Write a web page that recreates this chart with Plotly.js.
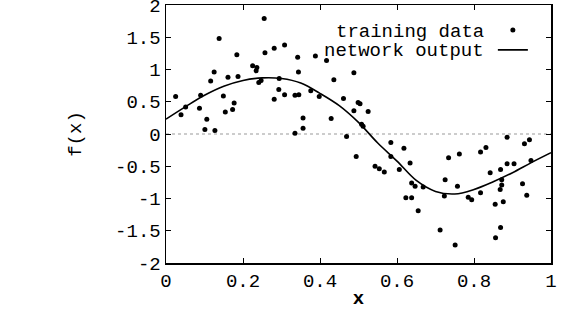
<!DOCTYPE html>
<html>
<head>
<meta charset="utf-8">
<script src="https://cdn.plot.ly/plotly-3.0.1.min.js"></script>
<style>html,body{margin:0;padding:0;background:#fff;}#chart{width:565px;height:310px;}</style>
</head>
<body>
<div id="chart"></div>
<script>
// Training data
var trainX = [0.025,0.039,0.051,0.087,0.090,0.101,0.106,0.116,0.125,0.127,0.138,0.149,0.154,0.161,0.173,0.177,0.184,0.187,
  0.225,0.234,0.236,0.241,0.247,0.255,0.257,0.281,0.281,0.293,0.294,0.308,0.308,0.335,0.345,0.342,0.344,0.356,0.356,0.335,
  0.376,0.388,0.398,0.417,0.429,0.436,0.461,0.469,0.488,0.488,0.494,0.499,0.504,0.508,0.512,0.525,0.543,0.554,0.567,0.584,
  0.584,0.606,0.618,0.623,0.634,0.638,0.638,0.647,0.655,0.668,0.712,0.723,0.725,0.734,0.751,0.757,0.762,0.785,0.794,0.817,
  0.817,0.831,0.842,0.855,0.856,0.868,0.869,0.869,0.872,0.872,0.876,0.886,0.886,0.904,0.926,0.931,0.937,0.944,0.948];
var trainY = [0.58,0.30,0.42,0.40,0.60,0.07,0.23,0.82,0.96,0.055,1.48,0.59,0.34,0.88,0.38,0.48,1.23,0.89,
  1.06,0.98,1.03,0.80,0.83,1.79,1.26,1.33,0.54,0.69,0.86,1.38,0.61,0.60,0.61,1.19,0.96,0.25,0.09,0.01,
  0.67,1.21,0.58,1.14,0.24,0.84,0.55,-0.04,0.95,0.36,-0.35,0.49,0.47,0.15,0.12,0.35,-0.50,-0.54,-0.59,-0.13,
  -0.35,-0.55,-0.22,-0.99,-0.45,-0.76,-0.99,-0.81,-1.19,-0.82,-1.49,-0.96,-0.71,-0.37,-1.72,-0.81,-0.31,-0.98,-1.02,-0.91,
  -0.28,-0.21,-0.60,-1.09,-1.61,-0.86,-0.55,-1.45,-0.71,-0.79,-1.05,-0.05,-0.46,-0.46,-0.77,-0.15,-0.95,-0.09,-0.41];
// Network output curve
var netX = [0,0.05,0.1,0.15,0.2,0.25,0.3,0.35,0.4,0.45,0.5,0.55,0.6,0.65,0.7,0.75,0.8,0.85,0.9,0.95,1.0];
var netY = [0.23,0.42,0.60,0.74,0.83,0.87,0.86,0.79,0.63,0.44,0.18,-0.14,-0.42,-0.72,-0.89,-0.93,-0.86,-0.74,-0.60,-0.44,-0.29];
var xTicks = [0,0.2,0.4,0.6,0.8,1];
var xTickText = ['0','0.2','0.4','0.6','0.8','1'];
var yTicks = [-2,-1.5,-1,-0.5,0,0.5,1,1.5,2];
var yTickText = ['-2','-1.5','-1','-0.5','0','0.5','1','1.5','2'];
var labels = ['training data','network output'];

var F = 'Liberation Mono, Courier New, monospace';
var traces = [
  {x: trainX, y: trainY, mode: 'markers', type: 'scatter', name: ' ',
   marker: {color: '#000', size: 5}, cliponaxis: true},
  {x: netX, y: netY, mode: 'lines', type: 'scatter', name: ' ',
   line: {color: '#000', width: 1.6, shape: 'spline', smoothing: 1}}
];
var layout = {
  width: 565, height: 310,
  margin: {l: 166, r: 14, t: 5, b: 47},
  paper_bgcolor: '#fff', plot_bgcolor: '#fff',
  font: {family: F, size: 19, color: '#000'},
  showlegend: true,
  legend: {x: 0.849, y: 0.961, xanchor: 'left', yanchor: 'top', bgcolor: 'rgba(0,0,0,0)',
           font: {size: 13}, itemwidth: 30, tracegroupgap: 0},
  xaxis: {range: [0, 1], tickvals: xTicks, ticktext: xTickText, ticks: 'inside', ticklen: 5,
          tickcolor: '#000', showline: true, linecolor: '#000', linewidth: 1.5, mirror: 'ticks',
          showgrid: false, zeroline: false, fixedrange: true, ticklabeloverflow: 'allow',
          title: {text: '<b>x</b>', font: {family: F, size: 19}, standoff: 12}},
  yaxis: {range: [-2, 2], tickvals: yTicks, ticktext: yTickText, ticks: 'inside', ticklen: 5,
          tickcolor: '#000', showline: true, linecolor: '#000', linewidth: 1.5, mirror: 'ticks',
          showgrid: false, zeroline: false, fixedrange: true, ticklabeloverflow: 'allow',
          title: {text: 'f(x)', font: {family: F, size: 19}, standoff: 28}},
  shapes: [{type: 'line', xref: 'paper', yref: 'y', x0: 0, x1: 1, y0: 0, y1: 0,
            line: {color: '#999', width: 1, dash: 'dot'}, layer: 'below'}],
  annotations: [
    {xref: 'paper', yref: 'paper', x: 0.8286, y: 0.899, xanchor: 'right', yanchor: 'middle',
     text: labels[0], showarrow: false, height: 19, borderpad: 0, font: {family: F, size: 19, color: '#000'}},
    {xref: 'paper', yref: 'paper', x: 0.8286, y: 0.825, xanchor: 'right', yanchor: 'middle',
     text: labels[1], showarrow: false, height: 19, borderpad: 0, font: {family: F, size: 19, color: '#000'}}
  ]
};
Plotly.newPlot('chart', traces, layout, {staticPlot: true, displayModeBar: false});
</script>
</body>
</html>
